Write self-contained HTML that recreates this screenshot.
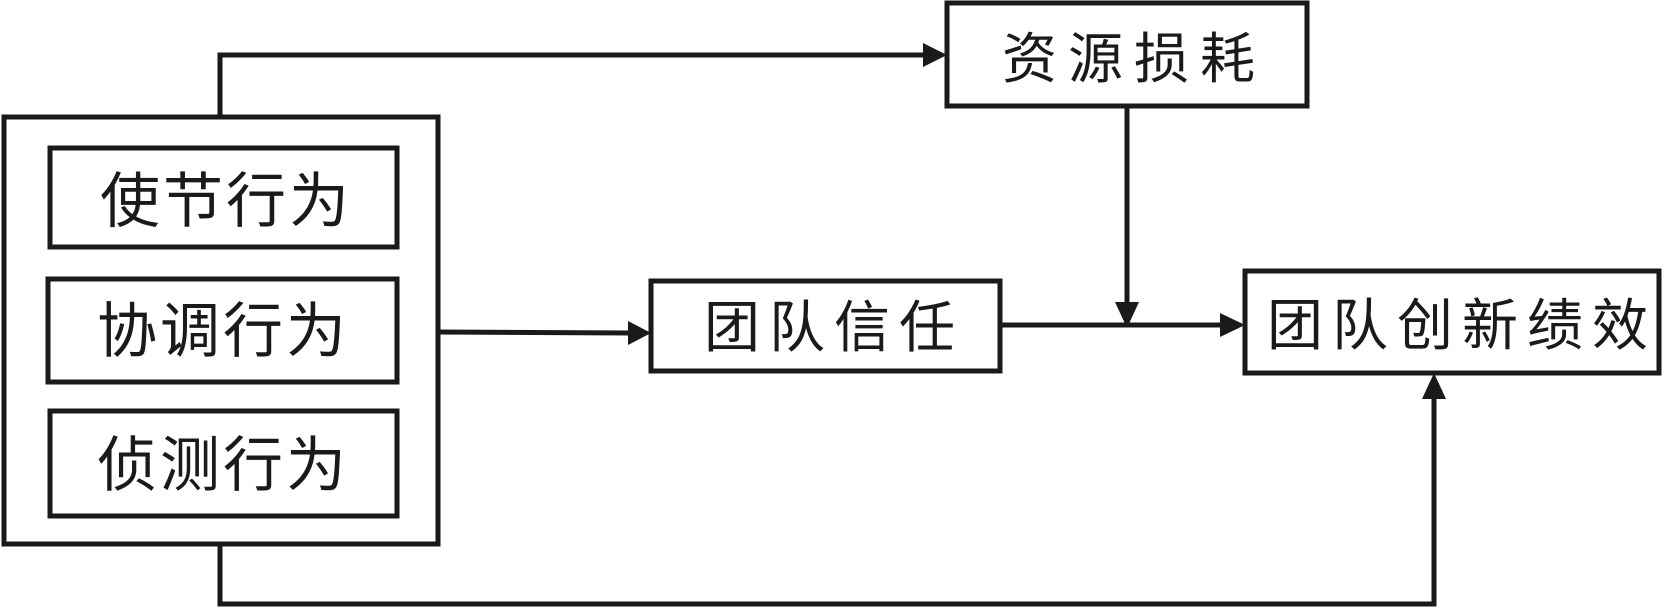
<!DOCTYPE html>
<html><head><meta charset="utf-8"><style>
html,body{margin:0;padding:0;background:#fff;}
svg{display:block;}
text{font-family:"Liberation Sans","Noto Sans CJK SC",sans-serif;fill:#1a1a1a;}
</style></head><body>
<svg width="1662" height="607" viewBox="0 0 1662 607" xmlns="http://www.w3.org/2000/svg">
<g fill="none" stroke="#1a1a1a" stroke-width="5">
<rect x="4" y="117" width="434" height="427"/>
<rect x="50" y="148" width="347" height="99"/>
<rect x="48" y="279" width="349" height="103"/>
<rect x="50" y="411" width="347" height="105"/>
<rect x="947" y="3" width="360" height="103"/>
<rect x="651" y="281" width="349" height="90"/>
<rect x="1245" y="271" width="414" height="102"/>
<polyline points="220,117 220,55 925,55"/>
<polyline points="438,332 630,333"/>
<polyline points="1127,106 1127,306"/>
<polyline points="1000,325 1222,325"/>
<polyline points="220,544 220,604 1434,604 1434,397"/>
</g>
<g fill="#1a1a1a">
<polygon points="947,55 923,43 923,67"/>
<polygon points="651,333 628,321 628,345"/>
<polygon points="1127,328 1115,302 1139,302"/>
<polygon points="1245,325 1220,313 1220,337"/>
<polygon points="1434,373 1422,399 1446,399"/>
</g>
<g font-size="60" letter-spacing="3">
<text x="100" y="222">使节行为</text>
<text x="97" y="352">协调行为</text>
<text x="97" y="486">侦测行为</text>
</g>
<g font-size="55" letter-spacing="11">
<text x="1002" y="78">资源损耗</text>
</g>
<g font-size="56" letter-spacing="9">
<text x="704" y="347">团队信任</text>
<text x="1267" y="345">团队创新绩效</text>
</g>
</svg>
</body></html>
